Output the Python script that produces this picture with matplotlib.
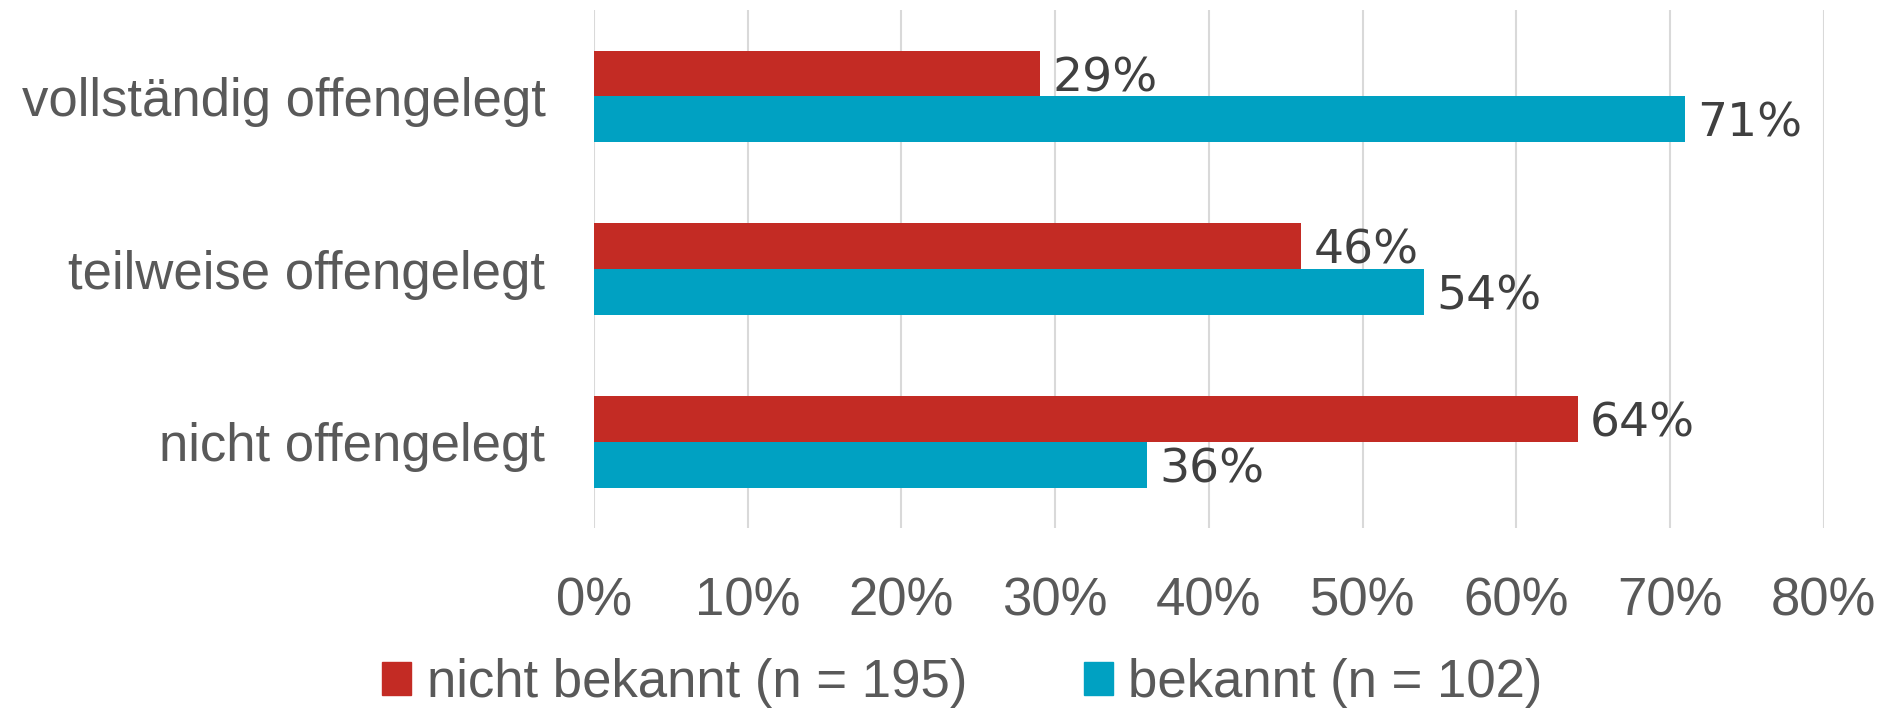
import numpy as np
from matplotlib import pyplot as plt
from matplotlib.patches import Patch

categories = ["vollständig offengelegt", "teilweise offengelegt", "nicht offengelegt"]
nicht_bekannt = [29, 46, 64]
bekannt = [71, 54, 36]
series_names = ["nicht bekannt (n = 195)", "bekannt (n = 102)"]
xticks = [0, 10, 20, 30, 40, 50, 60, 70, 80]

red = "#C32B24"
cyan = "#00A1C2"
grey_text = "#595959"

plt.rcParams['font.family'] = ['Liberation Sans', 'DejaVu Sans']

fig = plt.figure(figsize=(18.8, 7.1), dpi=100)
ax = fig.add_axes([0.316, 0.256, 0.654, 0.730])

y = np.arange(len(categories))
h = 0.265
ax.barh(y - h / 2, nicht_bekannt, height=h, color=red, zorder=3)
ax.barh(y + h / 2, bekannt, height=h, color=cyan, zorder=3)

# value labels next to the bar ends
for yi, v in zip(y, nicht_bekannt):
    ax.text(v + 0.8, yi - h / 2 + 0.03, f"{v}%", va="center", ha="left",
            fontsize=34, color="#404040", family="DejaVu Sans")
for yi, v in zip(y, bekannt):
    ax.text(v + 0.8, yi + h / 2 + 0.03, f"{v}%", va="center", ha="left",
            fontsize=34, color="#404040", family="DejaVu Sans")

ax.set_ylim(2.5, -0.5)
ax.set_xlim(0, 80)
ax.set_yticks(y)
ax.set_yticklabels(categories, fontsize=38, color=grey_text)
ax.set_xticks(xticks)
ax.set_xticklabels([f"{t}%" for t in xticks], fontsize=38, color=grey_text)
ax.tick_params(axis="both", length=0)
ax.tick_params(axis="x", pad=35)
ax.tick_params(axis="y", pad=35)
ax.grid(axis="x", color="#D9D9D9", linewidth=1.5, zorder=0)
for s in ax.spines.values():
    s.set_visible(False)

handles = [Patch(color=red), Patch(color=cyan)]
fig.legend(handles, series_names, loc="center", bbox_to_anchor=(0.512, 0.038),
           ncol=2, frameon=False, handlelength=0.55, handleheight=0.6,
           handletextpad=0.3, columnspacing=2.2,
           prop={'size': 38}, labelcolor=grey_text)

fig.savefig("out.png", dpi=100)
